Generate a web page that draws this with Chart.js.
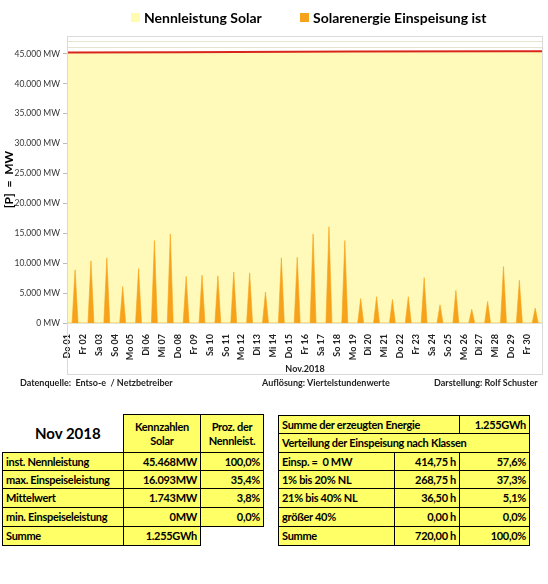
<!DOCTYPE html>
<html>
<head>
<meta charset="utf-8">
<script src="https://cdn.jsdelivr.net/npm/chart.js@4.4.0/dist/chart.umd.min.js"></script>
<style>
  body { margin: 0; background: #fff; font-family: Lato, "Open Sans", sans-serif; }
  #wrap { position: relative; width: 548px; height: 584px; overflow: hidden; }
  #chart { position: absolute; left: 0; top: 0; }
  .ft { position: absolute; top: 377px; font-size: 9px; font-weight: bold; color: #222; white-space: nowrap; }
  .cell {
    position: absolute; box-sizing: border-box; border: 1px solid #000;
    background: #ffff66; font-size: 11px; letter-spacing: -0.3px; font-weight: bold; color: #000;
    white-space: pre; padding: 0 3px; display: flex; align-items: center; line-height: 14px;
  }
  .title { position: absolute; font-size: 15px; font-weight: bold; color: #000; }
  .leg { position: absolute; top: 9px; font-size: 14px; font-weight: bold; color: #000; white-space: nowrap; }
  .leg span { display: inline-block; width: 9px; height: 9px; margin-right: 4px; vertical-align: 1px; }
</style>
</head>
<body>
<div id="wrap">
  <canvas id="chart" width="548" height="380"></canvas>
  <div class="ft" style="left:20px">Datenquelle:&nbsp; Entso-e&nbsp; / Netzbetreiber</div>
  <div class="ft" style="left:262px">Auflösung: Viertelstundenwerte</div>
  <div class="ft" style="left:434px">Darstellung: Rolf Schuster</div>
  <div class="title" style="left:35px;top:424px">Nov 2018</div>
</div>
<script>
// Tage im November 2018
const dayLabels = [
  "Do 01", "Fr 02", "Sa 03", "So 04", "Mo 05", "Di 06", "Mi 07", "Do 08", "Fr 09", "Sa 10",
  "So 11", "Mo 12", "Di 13", "Mi 14", "Do 15", "Fr 16", "Sa 17", "So 18", "Mo 19", "Di 20",
  "Mi 21", "Do 22", "Fr 23", "Sa 24", "So 25", "Mo 26", "Di 27", "Mi 28", "Do 29", "Fr 30",
];
// Tagesspitze Einspeisung (MW)
const peakMW = [
  8900, 10400, 10900, 6100, 9100, 13800, 14900, 7800, 8000, 7900,
  8550, 8400, 5200, 10900, 11000, 14900, 16093, 13800, 4100, 4400,
  3950, 4400, 7600, 3050, 5450, 2300, 3600, 9450, 7150, 2500,
];
// Stunden: Einspeisebeginn, Spitze, Ende
const riseHour = 7.7;
const peakHour = 12.25;
const setHour = 16.7;

// installierte Nennleistung (MW)
const nennDays = [1, 8, 19, 29, 31];
const nennMW = [45250, 45300, 45400, 45468, 45468];

// Tabellen
const kennHeader = ["Kennzahlen\nSolar", "Proz. der\nNennleist."];
const kennLabels = ["inst. Nennleistung", "max. Einspeiseleistung", "Mittelwert", "min. Einspeiseleistung", "Summe"];
const kennValues = ["45.468MW", "16.093MW", "1.743MW", "0MW", "1.255GWh"];
const kennPct = ["100,0%", "35,4%", "3,8%", "0,0%", null];

const summeLabel = "Summe der erzeugten Energie";
const summeValue = "1.255GWh";
const klassenTitle = "Verteilung der Einspeisung nach Klassen";
const klassenLabels = ["Einsp. =  0 MW", "1% bis 20% NL", "21% bis 40% NL", "größer 40%", "Summe"];
const klassenHours = ["414,75 h", "268,75 h", "36,50 h", "0,00 h", "720,00 h"];
const klassenPct = ["57,6%", "37,3%", "5,1%", "0,0%", "100,0%"];

const COLORS = {
  nennFill: "#fffab9",
  nennLegend: "#fffbb0",
  nennLine: "#d9261c",
  solar: "#f7a21b",
  grid: "rgba(150,140,60,0.24)",
  text: "#222",
};

// Spitzen aus den Tageswerten
const solarPoints = [{ x: 1, y: 0 }];
peakMW.forEach((p, i) => {
  const d = i + 1;
  solarPoints.push({ x: d + riseHour / 24, y: 0 });
  solarPoints.push({ x: d + peakHour / 24, y: p });
  solarPoints.push({ x: d + setHour / 24, y: 0 });
});
solarPoints.push({ x: 31, y: 0 });

const nennPoints = nennDays.map((d, i) => ({ x: d, y: nennMW[i] }));

function fmtMW(v) {
  return String(v).replace(/\B(?=(\d{3})+(?!\d))/g, ".") + " MW";
}

const FONT = "Lato, 'Open Sans', sans-serif";

const frame = {
  id: "frame",
  afterDraw(chart) {
    const { ctx, chartArea } = chart;
    ctx.save();
    ctx.strokeStyle = "#d9d9d9";
    ctx.lineWidth = 1;
    ctx.strokeRect(chartArea.left + 0.5, chartArea.top + 0.5,
      chartArea.right - chartArea.left - 1, chart.height - chartArea.top - 6);
    ctx.restore();
  },
};

const chart = new Chart(document.getElementById("chart"), {
  type: "line",
  data: {
    datasets: [
      {
        label: "Nennleistung Solar",
        data: nennPoints,
        borderColor: COLORS.nennLine,
        backgroundColor: COLORS.nennFill,
        borderWidth: 2,
        fill: "origin",
        pointRadius: 0,
        tension: 0,
        order: 2,
      },
      {
        label: "Solarenergie Einspeisung ist",
        data: solarPoints,
        borderColor: COLORS.solar,
        backgroundColor: COLORS.solar,
        borderWidth: 0.6,
        fill: "origin",
        pointRadius: 0,
        tension: 0,
        order: 1,
      },
    ],
  },
  plugins: [frame],
  options: {
    responsive: false,
    animation: false,
    devicePixelRatio: 1,
    layout: { padding: { left: 0, right: 5, top: 36, bottom: 0 } },
    plugins: {
      legend: { display: false },
      tooltip: { enabled: false },
    },
    scales: {
      x: {
        type: "linear",
        min: 1,
        max: 31,
        grid: { display: false },
        border: { display: false },
        ticks: {
          stepSize: 1,
          autoSkip: false,
          maxRotation: 90,
          minRotation: 90,
          padding: 3,
          color: COLORS.text,
          font: { family: FONT, size: 9, weight: "bold" },
          callback: (v) => dayLabels[v - 1] ?? null,
        },
        title: {
          display: true,
          text: "Nov.2018",
          color: COLORS.text,
          font: { family: FONT, size: 9, weight: "bold" },
          padding: { top: 0, bottom: 6 },
        },
      },
      y: {
        min: 0,
        max: 48000,
        afterFit(scale) { scale.width = 67; },
        grid: {
          color: COLORS.grid,
          tickLength: 4,
          tickColor: (c) => (c.tick && c.tick.value % 5000 === 0 ? "#bbb" : "transparent"),
        },
        border: { display: false },
        ticks: {
          stepSize: 1000,
          autoSkip: false,
          padding: 3,
          color: "#333",
          font: { family: FONT, size: 8.5 },
          callback: (v) => (v % 5000 === 0 ? fmtMW(v) : ""),
        },
        title: {
          display: true,
          text: "[P]  =  MW",
          color: "#000",
          font: { family: FONT, size: 12, weight: "bold" },
          padding: { top: 2, bottom: 0 },
        },
      },
    },
  },
});

// Legende
const wrap = document.getElementById("wrap");
const legendX = [131, 300];
const legendColors = [COLORS.nennLegend, COLORS.solar];
chart.data.datasets.forEach((ds, i) => {
  const d = document.createElement("div");
  d.className = "leg";
  d.style.left = legendX[i] + "px";
  const box = document.createElement("span");
  box.style.background = legendColors[i];
  d.appendChild(box);
  d.appendChild(document.createTextNode(ds.label));
  wrap.appendChild(d);
});

// Tabellen zeichnen
function cell(x1, y1, x2, y2, text, align) {
  const d = document.createElement("div");
  d.className = "cell";
  d.style.left = x1 + "px";
  d.style.top = y1 + "px";
  d.style.width = (x2 - x1 + 1) + "px";
  d.style.height = (y2 - y1 + 1) + "px";
  d.style.justifyContent = align === "r" ? "flex-end" : align === "c" ? "center" : "flex-start";
  if (align === "c") d.style.textAlign = "center";
  d.textContent = text;
  wrap.appendChild(d);
}

const lCols = [2, 123, 200, 263];
const lHead = [414, 452];
const lRows = [452, 470, 488, 507, 526, 545];
cell(lCols[1], lHead[0], lCols[2], lHead[1], kennHeader[0], "c");
cell(lCols[2], lHead[0], lCols[3], lHead[1], kennHeader[1], "c");
kennLabels.forEach((lab, i) => {
  cell(lCols[0], lRows[i], lCols[1], lRows[i + 1], lab, "l");
  cell(lCols[1], lRows[i], lCols[2], lRows[i + 1], kennValues[i], "r");
  if (kennPct[i] !== null) cell(lCols[2], lRows[i], lCols[3], lRows[i + 1], kennPct[i], "r");
});

const rCols = [278, 394, 459, 529];
const rRows = [415, 433, 452, 470, 488, 507, 526, 545];
cell(rCols[0], rRows[0], rCols[2], rRows[1], summeLabel, "l");
cell(rCols[2], rRows[0], rCols[3], rRows[1], summeValue, "r");
cell(rCols[0], rRows[1], rCols[3], rRows[2], klassenTitle, "l");
klassenLabels.forEach((lab, i) => {
  cell(rCols[0], rRows[i + 2], rCols[1], rRows[i + 3], lab, "l");
  cell(rCols[1], rRows[i + 2], rCols[2], rRows[i + 3], klassenHours[i], "r");
  cell(rCols[2], rRows[i + 2], rCols[3], rRows[i + 3], klassenPct[i], "r");
});
</script>
</body>
</html>
